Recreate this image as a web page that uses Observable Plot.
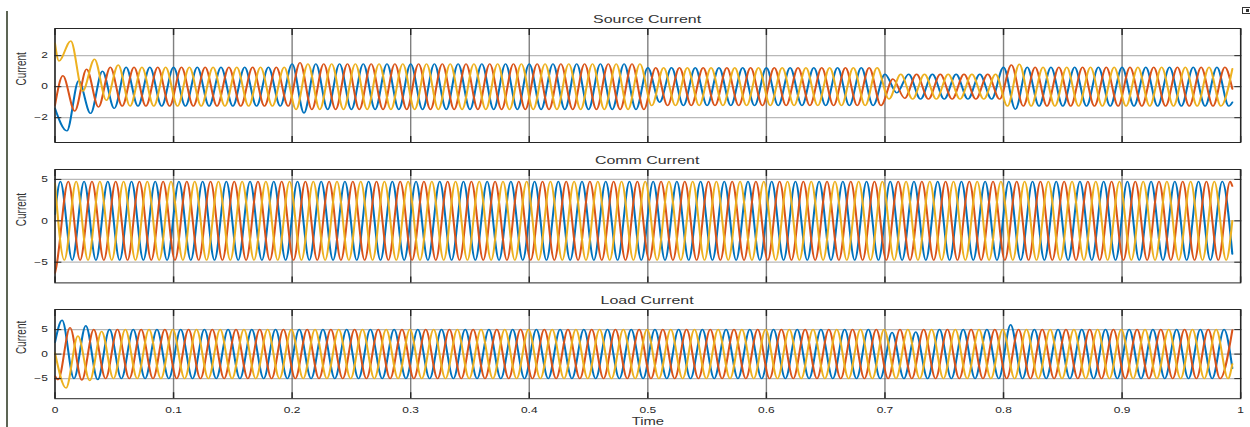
<!DOCTYPE html>
<html>
<head>
<meta charset="utf-8">
<script src="https://cdn.jsdelivr.net/npm/d3@7"></script>
<script src="https://cdn.jsdelivr.net/npm/@observablehq/plot@0.6"></script>
<style>
  html, body { margin: 0; padding: 0; background: #fff; }
  #page { position: relative; width: 1250px; height: 427px; overflow: hidden; background: #fff;
          font-family: "Liberation Sans", Arial, sans-serif; }
  #stage { position: absolute; left: 0; top: 0; width: 886.5px; height: 427px;
           transform: scaleX(1.41); transform-origin: 0 0; }
  .panel { position: absolute; left: 0; }
  .title { position: absolute; left: 38.5px; width: 840.9px; text-align: center;
           font-size: 11.3px; line-height: 1; color: #333; white-space: nowrap; }
  #leftbar { position: absolute; left: 6px; top: 11px; width: 1.5px; height: 416px; background: #5d6555; }
  #icon { position: absolute; left: 1242px; top: 7px; width: 7px; height: 5px; border: 1px solid #333; }
  #icon::after { content: ""; position: absolute; left: 3px; top: 1px; width: 3px; height: 3px; background: #333; }
</style>
</head>
<body>
<div id="page">
  <div id="leftbar"></div>
  <div id="icon"></div>
  <div id="stage"></div>
</div>
<script>
// ---------- data ----------
const phaseNames = ["Phase A", "Phase B", "Phase C"];
const phaseColors = ["#0072BD", "#D95319", "#EDB120"];
const cycleHz = 50;            // 5 cycles per 0.1 s grid cell
const tStop = 0.993;           // last simulated sample
const xTicks = [0, 0.1, 0.2, 0.3, 0.4, 0.5, 0.6, 0.7, 0.8, 0.9, 1];

// Source current
const sourceTitle = "Source Current";
const sourceYDomain = [-3.6, 3.75];
const sourceYTicks = [-2, 0, 2];
const sourcePeakLag = 0.0;                       // first positive peak of phase A
const sourceAmpFrom = [0, 0.2, 0.5, 0.7, 0.8];   // steady amplitude segments
const sourceAmp = [1.25, 1.47, 1.22, 0.8, 1.25];
const sourceStart = [-1.4, -1.2, 2.8];
const sourceEnd = [-1.0, -0.15, 1.15];
const sourceFixes = [
  [0, 0.01, -2.85], [0, 0.02, 0.38], [0, 0.03, -1.72], [0, 0.04, 1.0], [0, 0.05, -1.4],
  [1, 0.0067, 0.7], [1, 0.0167, -1.57], [1, 0.0267, 1.12], [1, 0.0367, -1.31],
  [2, 0.0033, 1.66], [2, 0.0133, 2.95], [2, 0.0233, -0.28], [2, 0.0333, 1.77], [2, 0.0433, -0.88], [2, 0.0533, 1.4],
  [0, 0.21, -1.7], [1, 0.2067, 1.55],
  [0, 0.51, -1.0],
  [0, 0.71, -0.4], [1, 0.7067, 0.5], [1, 0.7167, -0.75],
  [1, 0.8067, 1.4], [2, 0.8133, 1.45], [0, 0.81, -1.46]
];

// Comm current
const commTitle = "Comm Current";
const commYDomain = [-7.5, 6.2];
const commYTicks = [-5, 0, 5];
const commPeakLag = 0.0045;
const commAmpFrom = [0];
const commAmp = [4.75];
const commStart = [0.8, -6.3, 4.5];
const commEnd = [-4.0, 4.2, 0.0];
const commFixes = [[1, 0.0012, -5.5]];

// Load current
const loadTitle = "Load Current";
const loadYDomain = [-9.1, 9.1];
const loadYTicks = [-5, 0, 5];
const loadPeakLag = 0.006;
const loadAmpFrom = [0];
const loadAmp = [5.0];
const loadStart = [2.4, -4.5, 0.3];
const loadEnd = [-2.9, 4.9, -2.0];
const loadFixes = [
  [0, 0.006, 6.9], [0, 0.016, -5.0], [0, 0.026, 5.8], [0, 0.036, -5.2],
  [1, 0.0027, -5.2], [1, 0.0127, 5.4], [1, 0.0227, -5.3],
  [2, 0.0093, -6.9], [2, 0.0193, 3.7], [2, 0.0293, -5.4], [2, 0.0393, 4.6],
  [0, 0.706, 4.4], [0, 0.726, 4.5], [0, 0.806, 6.0]
];

// ---------- build rows: waveform extrema (one per half cycle) ----------
function buildRows(lag, ampFrom, amp, starts, ends, fixes) {
  const half = 1 / cycleHz / 2;
  const rows = [];
  phaseNames.forEach((name, p) => {
    rows.push({t: 0, v: starts[p], phase: name});
    const first = lag + p * (2 * half) / 3;
    for (let k = -3; ; k++) {
      const t = first + k * half;
      if (t >= tStop - 0.0005) break;
      if (t <= 0.0005) continue;
      let i = 0;
      while (i + 1 < ampFrom.length && ampFrom[i + 1] <= t) i++;
      let v = (Math.abs(k) % 2 === 0 ? 1 : -1) * amp[i];
      const fix = fixes.find(f => f[0] === p && Math.abs(f[1] - t) < 0.0025);
      if (fix) v = fix[2];
      rows.push({t, v, phase: name});
    }
    rows.push({t: tStop, v: ends[p], phase: name});
  });
  return rows;
}

const ink = "#262626";
function panel({rows, yDomain, yTicks, height, marginBottom, showX}) {
  return Plot.plot({
    width: 886.5,
    height,
    marginLeft: 38.5,
    marginRight: 7.1,
    marginTop: 1,
    marginBottom,
    style: {fontFamily: "'Liberation Sans', Arial, sans-serif", background: "transparent", overflow: "visible", color: ink},
    x: {domain: [0, 1]},
    y: {domain: yDomain},
    color: {domain: phaseNames, range: phaseColors},
    marks: [
      Plot.gridY(yTicks, {stroke: "#b8b8b8", strokeOpacity: 1, strokeWidth: 1.2}),
      Plot.gridX(xTicks, {stroke: "#555", strokeOpacity: 0.75, strokeWidth: 1}),
      Plot.line(rows, {x: "t", y: "v", z: "phase", stroke: "phase", curve: "monotone-x", strokeWidth: 1.45, clip: true}),
      Plot.axisY(yTicks, {anchor: "left", tickSize: 0, tickPadding: 5, fontSize: 8.5, label: null}),
      Plot.axisY(yTicks, {anchor: "left", tickSize: -5, tickFormat: () => "", label: null}),
      Plot.axisY(yTicks, {anchor: "right", tickSize: -5, tickFormat: () => "", label: null}),
      Plot.axisX(xTicks, {anchor: "top", tickSize: -6, tickFormat: () => "", label: null}),
      Plot.axisX(xTicks, {anchor: "bottom", tickSize: -6, tickFormat: () => "", label: null}),
      showX ? Plot.axisX(xTicks, {anchor: "bottom", tickSize: 0, tickPadding: 8, fontSize: 8.5, label: null, tickFormat: d => String(d)}) : null,
      showX ? Plot.text(["Time"], {frameAnchor: "bottom", dy: 26.5, fontSize: 10.5, fill: "#333"}) : null,
      Plot.frame({stroke: ink, strokeWidth: 1}),
      Plot.text(["Current"], {frameAnchor: "left", rotate: -90, dx: -24, fontSize: 10, fill: "#333"})
    ]
  });
}

const stage = document.getElementById("stage");
function place(node, top) {
  const d = document.createElement("div");
  d.className = "panel";
  d.style.top = top + "px";
  d.appendChild(node);
  stage.appendChild(d);
}
function title(text, top) {
  const d = document.createElement("div");
  d.className = "title";
  d.style.top = top + "px";
  d.textContent = text;
  stage.appendChild(d);
}

title(sourceTitle, 14.2);
place(panel({
  rows: buildRows(sourcePeakLag, sourceAmpFrom, sourceAmp, sourceStart, sourceEnd, sourceFixes),
  yDomain: sourceYDomain, yTicks: sourceYTicks, height: 116, marginBottom: 1, showX: false
}), 26.5);

title(commTitle, 154.8);
place(panel({
  rows: buildRows(commPeakLag, commAmpFrom, commAmp, commStart, commEnd, commFixes),
  yDomain: commYDomain, yTicks: commYTicks, height: 115.4, marginBottom: 1, showX: false
}), 168.3);

title(loadTitle, 294.8);
place(panel({
  rows: buildRows(loadPeakLag, loadAmpFrom, loadAmp, loadStart, loadEnd, loadFixes),
  yDomain: loadYDomain, yTicks: loadYTicks, height: 119.5, marginBottom: 29.3, showX: true
}), 307.5);
</script>
</body>
</html>
